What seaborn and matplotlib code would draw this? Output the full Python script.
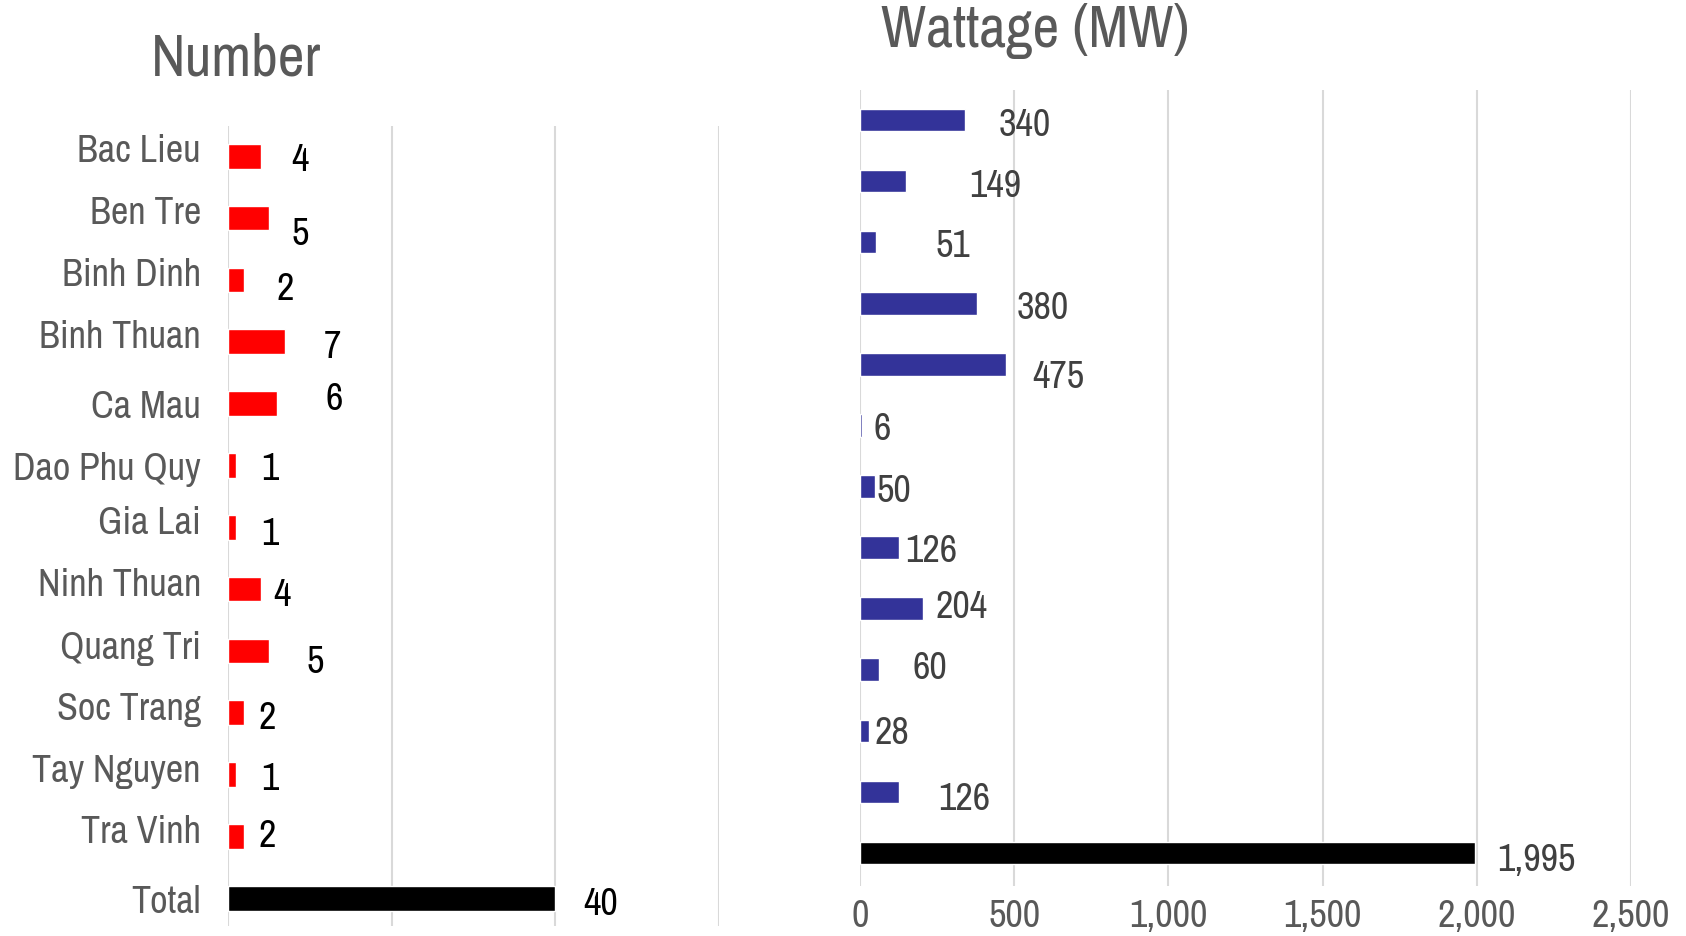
import matplotlib
matplotlib.use("Agg")
import matplotlib.pyplot as plt
from matplotlib.ticker import FuncFormatter
from matplotlib.transforms import ScaledTranslation
import seaborn as sns
import pandas as pd

# ---- data ----
provinces = ["Bac Lieu", "Ben Tre", "Binh Dinh", "Binh Thuan", "Ca Mau",
             "Dao Phu Quy", "Gia Lai", "Ninh Thuan", "Quang Tri", "Soc Trang",
             "Tay Nguyen", "Tra Vinh", "Total"]
number = [4, 5, 2, 7, 6, 1, 1, 4, 5, 2, 1, 2, 40]
wattage = [340, 149, 51, 380, 475, 6, 50, 126, 204, 60, 28, 126, 1995]
wattage_ticks = [0, 500, 1000, 1500, 2000, 2500]
number_grid = [0, 20, 40, 60]

# ---- label nudges (pixels: right, down) ----
number_nudge = [(31, 0), (23, 12), (32, 6), (38, 2), (48, -8), (25, 0), (25, 3),
                (13, 2), (38, 8), (14, 2), (25, 1), (14, -4), (28, 2)]
wattage_nudge = [(34, 2), (63, 1), (60, 0), (39, 1), (26, 9), (12, 0), (1, 1),
                 (6, 0), (13, -5), (34, -5), (6, -1), (39, 4), (22, 3)]
# category names lifted this many pixels above their bars
name_lift = [9, 9, 9, 9, 1, 0, 8, 8, 7, 8, 8, 8, 0]

sns.set_theme(style="white")
plt.rcParams["font.family"] = ["Archivo Narrow", "Liberation Sans", "DejaVu Sans"]

W, H = 1686, 937
DPI = 100
fig = plt.figure(figsize=(W / DPI, H / DPI), dpi=DPI)
fig.patch.set_facecolor("white")

GRAY = "#595959"
GRID = "#d9d9d9"
FS = 27.5
CAP_HALF = 13.5  # half the digit height in pixels

df = pd.DataFrame({"province": provinces, "number": number, "wattage": wattage})
red_pal = {p: ("#000000" if p == "Total" else "#ff0000") for p in provinces}
blue_pal = {p: ("#000000" if p == "Total" else "#333399") for p in provinces}

# ---- left panel: number of projects ----
ax1 = fig.add_axes([228 / W, (H - 927) / H, (719 - 228) / W, (927 - 127) / H])
sns.barplot(data=df, x="number", y="province", hue="province", palette=red_pal,
            orient="h", width=0.4, legend=False, ax=ax1, saturation=1)
ax1.set_xlim(0, 60)
ax1.set_ylim(12.45, -0.49)
ax1.set_xticks(number_grid)
ax1.grid(axis="x", color=GRID, linewidth=1.5)
ax1.grid(axis="y", visible=False)
ax1.set_axisbelow(True)
ax1.tick_params(axis="x", labelbottom=False, length=0)
ax1.tick_params(axis="y", length=0, pad=19.5, labelsize=FS, labelcolor=GRAY)
ax1.set_xlabel("")
ax1.set_ylabel("")
for s in ax1.spines.values():
    s.set_visible(False)
for lab, lift in zip(ax1.get_yticklabels(), name_lift):
    lab.set_transform(lab.get_transform() + ScaledTranslation(0, lift / DPI, fig.dpi_scale_trans))
for i, (v, (dx, dy)) in enumerate(zip(number, number_nudge)):
    ax1.annotate(f"{v:,}", xy=(v, i), xytext=(dx, -dy - CAP_HALF),
                 textcoords="offset pixels", ha="left", va="baseline",
                 fontsize=FS, color="#000000")

# ---- right panel: wattage ----
ax2 = fig.add_axes([860 / W, (H - 887) / H, (1631 - 860) / W, (887 - 91) / H])
sns.barplot(data=df, x="wattage", y="province", hue="province", palette=blue_pal,
            orient="h", width=0.37, legend=False, ax=ax2, saturation=1)
ax2.set_xlim(0, 2500)
ax2.set_ylim(12.54, -0.49)
ax2.set_xticks(wattage_ticks)
ax2.xaxis.set_major_formatter(FuncFormatter(lambda x, _: f"{x:,.0f}"))
ax2.grid(axis="x", color=GRID, linewidth=1.5)
ax2.grid(axis="y", visible=False)
ax2.set_axisbelow(True)
ax2.tick_params(axis="x", length=0, pad=9, labelsize=FS, labelcolor=GRAY)
ax2.tick_params(axis="y", length=0, labelleft=False)
ax2.set_xlabel("")
ax2.set_ylabel("")
for s in ax2.spines.values():
    s.set_visible(False)
for i, (v, (dx, dy)) in enumerate(zip(wattage, wattage_nudge)):
    ax2.annotate(f"{v:,}", xy=(v, i), xytext=(dx, -dy - CAP_HALF),
                 textcoords="offset pixels", ha="left", va="baseline",
                 fontsize=FS, color="#404040")

# ---- panel titles ----
fig.text(236 / W, 1 - 59 / H, "Number", ha="center", va="center",
         fontsize=42, color=GRAY)
fig.text(1035 / W, 1 - 31 / H, "Wattage (MW)", ha="center", va="center",
         fontsize=42, color=GRAY)

fig.savefig("out.png", dpi=DPI, facecolor="white")
